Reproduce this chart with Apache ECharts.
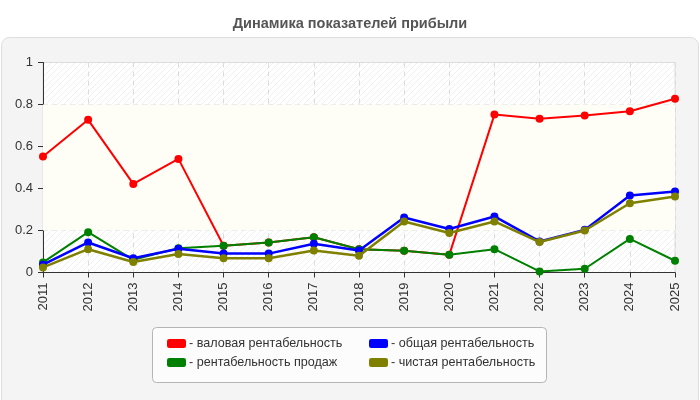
<!DOCTYPE html>
<html>
<head>
<meta charset="utf-8">
<script src="https://cdn.jsdelivr.net/npm/echarts@6/dist/echarts.min.js"></script>
<style>
  html, body { margin: 0; padding: 0; background: #fff; }
  #chart { width: 700px; height: 400px; }
</style>
</head>
<body>
<div id="chart"></div>
<script>
  const years = ['2011', '2012', '2013', '2014', '2015', '2016', '2017', '2018',
    '2019', '2020', '2021', '2022', '2023', '2024', '2025'];
  const grossMargin = [0.552, 0.727, 0.422, 0.541, 0.127, 0.143, 0.168, 0.111,
    0.103, 0.084, 0.752, 0.732, 0.748, 0.768, 0.827];
  const totalMargin = [0.037, 0.143, 0.068, 0.113, 0.09, 0.09, 0.137, 0.105,
    0.262, 0.207, 0.267, 0.148, 0.203, 0.367, 0.386];
  const salesMargin = [0.048, 0.192, 0.06, 0.116, 0.127, 0.143, 0.168, 0.111,
    0.103, 0.084, 0.111, 0.005, 0.018, 0.16, 0.056];
  const netMargin = [0.024, 0.111, 0.05, 0.088, 0.068, 0.068, 0.105, 0.08,
    0.243, 0.188, 0.243, 0.145, 0.2, 0.33, 0.362];
  const yTicks = [0, 0.2, 0.4, 0.6, 0.8, 1];

  // diagonal hatch used as plot background
  function hatch() {
    const c = document.createElement('canvas');
    c.width = 6;
    c.height = 6;
    const ctx = c.getContext('2d');
    ctx.fillStyle = '#ffffff';
    ctx.fillRect(0, 0, 6, 6);
    ctx.strokeStyle = '#efefef';
    ctx.lineWidth = 1;
    ctx.beginPath();
    ctx.moveTo(0, 6);
    ctx.lineTo(6, 0);
    ctx.moveTo(-3, 3);
    ctx.lineTo(3, -3);
    ctx.moveTo(3, 9);
    ctx.lineTo(9, 3);
    ctx.stroke();
    return c;
  }

  const chart = echarts.init(document.getElementById('chart'));

  function line(name, data, color, width, z) {
    return {
      name,
      type: 'line',
      data,
      z,
      symbol: 'circle',
      symbolSize: 8,
      itemStyle: { color },
      lineStyle: { color, width },
      animation: false
    };
  }

  const series = [
    line('валовая рентабельность', grossMargin, '#ff0000', 2, 2),
    line('рентабельность продаж', salesMargin, '#008000', 2, 3),
    line('общая рентабельность', totalMargin, '#0000ff', 2.5, 4),
    line('чистая рентабельность', netMargin, '#808000', 2.5, 5)
  ];
  series[0].markArea = {
    silent: true,
    itemStyle: { color: '#fefef7' },
    data: [[{ yAxis: yTicks[1] }, { yAxis: yTicks[4] }]]
  };

  const legendText = { fontSize: 12.6, color: '#333', fontFamily: 'Liberation Sans', padding: [0, 0, 0, -2] };
  const legendBase = {
    orient: 'vertical',
    top: 332,
    itemGap: 6,
    itemWidth: 19,
    itemHeight: 9,
    icon: 'roundRect',
    formatter: (n) => '- ' + n,
    textStyle: legendText
  };

  chart.setOption({
    animation: false,
    title: {
      text: 'Динамика показателей прибыли',
      left: 'center',
      top: 11,
      textStyle: { fontSize: 14.5, fontWeight: 'bold', color: '#555', fontFamily: 'Liberation Sans' }
    },
    graphic: [
      {
        type: 'rect',
        z: -10,
        shape: { x: 1.5, y: 37.5, width: 697, height: 380, r: 8 },
        style: { fill: '#f4f4f4', stroke: '#dedede', lineWidth: 1 }
      },
      {
        type: 'rect',
        z: -5,
        shape: { x: 152.5, y: 327.5, width: 394, height: 55, r: 4 },
        style: { fill: '#fcfcfc', stroke: '#b5b5b5', lineWidth: 1 }
      }
    ],
    legend: [
      Object.assign({ data: ['валовая рентабельность', 'рентабельность продаж'], left: 162 }, legendBase),
      Object.assign({ data: ['общая рентабельность', 'чистая рентабельность'], left: 364 }, legendBase)
    ],
    grid: {
      left: 43,
      right: 25,
      top: 62.5,
      bottom: 127.5,
      show: true,
      borderColor: '#dddddd',
      borderWidth: 1,
      backgroundColor: { image: hatch(), repeat: 'repeat' }
    },
    xAxis: {
      type: 'category',
      data: years,
      boundaryGap: false,
      axisLine: { lineStyle: { color: '#333', width: 1 } },
      axisTick: { show: true, length: 5, lineStyle: { color: '#333' } },
      axisLabel: { rotate: 90, fontSize: 13, color: '#333', margin: 10, fontFamily: 'Liberation Sans' },
      splitLine: { show: true, lineStyle: { color: '#dcdcdc', type: [5, 4] } }
    },
    yAxis: {
      type: 'value',
      min: yTicks[0],
      max: yTicks[yTicks.length - 1],
      interval: 0.2,
      axisLine: { show: true, lineStyle: { color: '#333', width: 1 } },
      axisTick: { show: true, length: 5, lineStyle: { color: '#333' } },
      axisLabel: { fontSize: 13, color: '#333', margin: 10, fontFamily: 'Liberation Sans' },
      splitLine: { show: true, lineStyle: { color: '#dcdcdc', type: [5, 4] } }
    },
    series
  });
</script>
</body>
</html>
